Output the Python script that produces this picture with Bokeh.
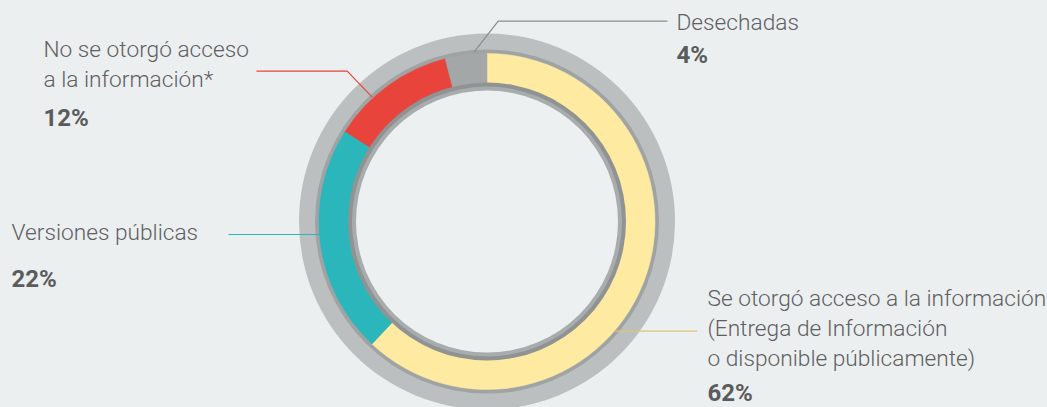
import math
from bokeh.plotting import figure
from bokeh.models import Range1d
from bokeh.core.properties import value
from bokeh.embed import file_html
from bokeh.resources import INLINE

# ---- data ----
categories = ["Se otorgó acceso a la información", "Versiones públicas",
              "No se otorgó acceso a la información*", "Desechadas"]
values = [62, 22, 12, 4]
colors = ["#feeaa0", "#2bb6bc", "#e8443c", "#a4a7a8"]
label_lines = [
    ["Se otorgó acceso a la información", "(Entrega de Información", "o disponible públicamente)"],
    ["Versiones públicas"],
    ["No se otorgó acceso", "a la información*"],
    ["Desechadas"],
]

W, H = 1047, 407
BG = "#eceff0"
TEXT_SHIFT = 8  # compensation for svg baseline placement

def Y(py):
    return H - py

p = figure(width=W, height=H, x_range=Range1d(0, W), y_range=Range1d(0, H),
           output_backend="svg", toolbar_location=None, min_border=0,
           background_fill_color=BG, border_fill_color=BG)
p.axis.visible = False
p.grid.visible = False
p.outline_line_color = None

cx, cy = 486.5, Y(221)

# outer rings
p.circle(x=[cx], y=[cy], radius=188, fill_color="#bcbfc0", line_color=None)
p.circle(x=[cx], y=[cy], radius=172, fill_color="#a0a3a4", line_color=None)

# donut slices, clockwise from 12 o'clock
total = sum(values)
cum = 0
starts, ends = [], []
for v in values:
    starts.append(math.radians(90 - cum / total * 360))
    cum += v
    ends.append(math.radians(90 - cum / total * 360))
p.annular_wedge(x=[cx] * len(values), y=[cy] * len(values), inner_radius=136, outer_radius=168,
                start_angle=starts, end_angle=ends, direction="clock",
                fill_color=colors, line_color=colors, line_width=0.5)

# inner ring
p.circle(x=[cx], y=[cy], radius=139, fill_color="#909394", line_color=None)
p.circle(x=[cx], y=[cy], radius=135, fill_color="#a9acad", line_color=None)
p.circle(x=[cx], y=[cy], radius=131, fill_color="#edf0f1", line_color=None)

# leader lines
p.line(x=[473.5, 497.7, 667], y=[Y(51.7), Y(20.7), Y(20.7)], line_color="#8a8d8f", line_width=1.2)
p.line(x=[256, 346.7, 371.7], y=[Y(70.7), Y(70.7), Y(96.7)], line_color="#e8443c", line_width=1.2)
p.line(x=[228, 319.3], y=[Y(234), Y(234)], line_color="#2bb6bc", line_width=1.2)
p.line(x=[613.3, 696.7], y=[Y(330.7), Y(330.7)], line_color="#dcc47a", line_width=1.2)

# labels
lab_pos = [(707, [306, 336, 366], 400), (11, [239.5], 286), (43, [57.3, 87.3], 125), (676, [30], 62)]
tx, ty, tt = [], [], []
px, py, pt = [], [], []
for (x0, ys, yp), lines, v in zip(lab_pos, label_lines, values):
    for yy, s in zip(ys, lines):
        tx.append(x0); ty.append(Y(yy - TEXT_SHIFT)); tt.append(s)
    px.append(x0); py.append(Y(yp - TEXT_SHIFT)); pt.append(f"{v}%")

p.text(x=tx, y=ty, text=tt, text_font=value("Roboto Light"), text_font_size="22.7px",
       text_color="#5f6062", text_baseline="alphabetic", text_align="left")
p.text(x=px, y=py, text=pt, text_font=value("Roboto"), text_font_style="bold",
       text_font_size="24px", text_color="#5a5b5d", text_baseline="alphabetic", text_align="left")

html = file_html(p, INLINE)
html = html.replace("<head>", "<head><style>html,body{margin:0;padding:0;background:#eceff0;}</style>", 1)
open("out.html", "w").write(html)
